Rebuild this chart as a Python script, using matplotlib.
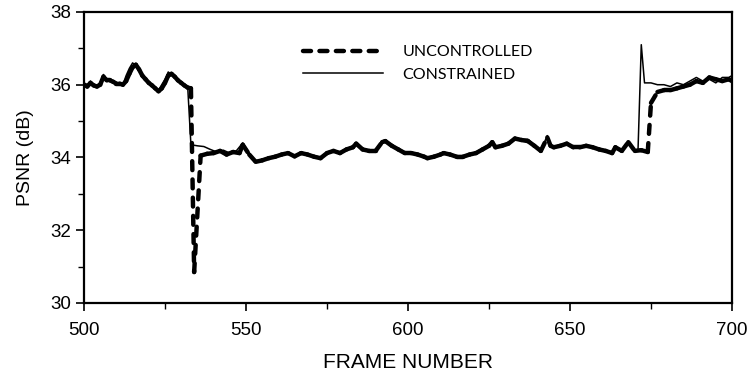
import matplotlib
matplotlib.use("Agg")
import matplotlib.pyplot as plt
from matplotlib.collections import LineCollection
from matplotlib.lines import Line2D
from matplotlib.ticker import MultipleLocator
import numpy as np

# constrained (thin solid line)
frames_c = [500, 501, 502, 503, 504, 505, 506, 507, 508, 509, 510, 511, 512, 513, 514,
            515, 516, 517, 518, 519, 520, 521, 522, 523, 524, 525, 526, 527, 528, 529,
            530, 531, 532, 533, 535, 537, 539, 541, 543, 545, 547, 549, 551, 553, 555,
            557, 559, 561, 563, 565, 567, 569, 571, 573, 575, 577, 579, 581, 583, 584,
            586, 588, 590, 592, 593, 595, 597, 599, 601, 603, 605, 606, 608, 610, 611,
            613, 615, 617, 619, 621, 623, 625, 626, 627, 629, 631, 633, 635, 637, 639,
            641, 643, 644, 645, 647, 649, 651, 653, 655, 657, 659, 661, 663, 664, 666,
            668, 670, 671, 672, 673, 675, 677, 679, 681, 683, 685, 687, 689, 691, 693,
            695, 697, 699, 700]
psnr_c = [36.05, 36.0, 36.1, 36.0, 35.98, 36.05, 36.28, 36.15, 36.15, 36.1, 36.05, 36.05,
          36.0, 36.25, 36.45, 36.6, 36.52, 36.38, 36.22, 36.15, 36.05, 36.0, 35.88, 35.85,
          36.0, 36.15, 36.35, 36.28, 36.2, 36.1, 36.05, 36.0, 35.95, 34.35, 34.32, 34.3,
          34.22, 34.15, 34.2, 34.12, 34.18, 34.4, 34.12, 33.9, 33.95, 34.0, 34.05, 34.1,
          34.1, 34.05, 34.15, 34.1, 34.05, 34.0, 34.15, 34.2, 34.15, 34.25, 34.3, 34.4,
          34.25, 34.2, 34.2, 34.45, 34.48, 34.35, 34.25, 34.15, 34.15, 34.1, 34.05, 34.0,
          34.05, 34.1, 34.15, 34.1, 34.05, 34.05, 34.1, 34.15, 34.25, 34.35, 34.45, 34.3,
          34.35, 34.4, 34.55, 34.5, 34.5, 34.35, 34.2, 34.6, 34.35, 34.3, 34.35, 34.4,
          34.3, 34.3, 34.35, 34.3, 34.25, 34.2, 34.15, 34.3, 34.2, 34.45, 34.2, 34.22,
          37.1, 36.05, 36.05, 36.0, 36.0, 35.95, 36.05, 36.0, 36.1, 36.2, 36.1, 36.15,
          36.05, 36.2, 36.2, 36.25]

# uncontrolled (thick dashed line)
frames_u = [500, 501, 502, 503, 504, 505, 506, 507, 508, 509, 510, 511, 512, 513, 514,
            515, 516, 517, 518, 519, 520, 521, 522, 523, 524, 525, 526, 527, 528, 529,
            530, 531, 532, 533, 534, 536, 538, 540, 542, 544, 546, 548, 549, 551, 553,
            555, 557, 559, 561, 563, 565, 567, 569, 571, 573, 575, 577, 579, 581, 583,
            584, 586, 588, 590, 592, 593, 595, 597, 599, 601, 603, 605, 606, 608, 610,
            611, 613, 615, 617, 619, 621, 623, 625, 626, 627, 629, 631, 633, 635, 637,
            639, 641, 643, 644, 645, 647, 649, 651, 653, 655, 657, 659, 661, 663, 664,
            666, 668, 670, 672, 674, 675, 677, 679, 681, 683, 685, 687, 689, 691, 693,
            695, 697, 699, 700]
psnr_u = [36.0, 35.95, 36.05, 35.98, 35.95, 36.0, 36.22, 36.12, 36.12, 36.08, 36.03,
          36.03, 36.0, 36.1, 36.3, 36.48, 36.55, 36.42, 36.25, 36.15, 36.05, 35.98, 35.9,
          35.82, 35.9, 36.05, 36.25, 36.3, 36.22, 36.12, 36.05, 35.98, 35.92, 35.9, 30.85,
          34.05, 34.1, 34.12, 34.18, 34.08, 34.15, 34.12, 34.35, 34.08, 33.88, 33.92,
          33.98, 34.02, 34.08, 34.12, 34.03, 34.12, 34.08, 34.02, 33.98, 34.12, 34.18,
          34.12, 34.22, 34.28, 34.38, 34.22, 34.18, 34.18, 34.42, 34.45, 34.32, 34.22,
          34.12, 34.12, 34.08, 34.02, 33.98, 34.02, 34.08, 34.12, 34.08, 34.02, 34.02,
          34.08, 34.12, 34.22, 34.32, 34.42, 34.28, 34.32, 34.38, 34.52, 34.48, 34.45,
          34.32, 34.18, 34.55, 34.32, 34.28, 34.32, 34.38, 34.28, 34.28, 34.32, 34.28,
          34.22, 34.18, 34.12, 34.28, 34.18, 34.42, 34.18, 34.2, 34.15, 35.5, 35.8, 35.85,
          35.85, 35.9, 35.95, 36.0, 36.1, 36.05, 36.2, 36.15, 36.1, 36.15, 36.1]

x_ticks = [500, 550, 600, 650, 700]
y_ticks = [30, 32, 34, 36, 38]

narrow = ["Liberation Sans Narrow", "Liberation Sans", "DejaVu Sans"]

fig = plt.figure(figsize=(7.52, 3.74), dpi=100)
ax = fig.add_axes([0.1117, 0.19, 0.8617, 0.778])

# old plotters restart the dash pattern on every segment, so only long jumps look dashed
pts = np.column_stack([frames_u, psnr_u])
segs = np.stack([pts[:-1], pts[1:]], axis=1)
dash = (0, (2.0, 2.1))
lc = LineCollection(segs, colors="black", linewidths=3.2, linestyles=[dash],
                    capstyle="round", joinstyle="round")
ax.add_collection(lc)

ax.plot(frames_c, psnr_c, color="black", lw=1.1, solid_joinstyle="round")

ax.set_xlim(500, 700)
ax.set_ylim(30, 38)
ax.set_xticks(x_ticks)
ax.set_yticks(y_ticks)
ax.xaxis.set_minor_locator(MultipleLocator(25))
ax.yaxis.set_minor_locator(MultipleLocator(1))
ax.tick_params(which="major", direction="out", length=6, width=1.2, pad=8)
ax.tick_params(which="minor", direction="out", length=4, width=1.0)
ax.tick_params(axis="y", pad=3)
for lab in ax.get_xticklabels() + ax.get_yticklabels():
    lab.set_family(narrow)
    lab.set_fontsize(13.5)
for s in ax.spines.values():
    s.set_linewidth(1.6)

ax.set_xlabel("FRAME NUMBER", family=narrow, fontsize=15, labelpad=10)
ax.set_ylabel("PSNR (dB)", family=["Liberation Sans", "DejaVu Sans"], fontsize=14, labelpad=12)

handles = [
    Line2D([], [], color="black", lw=3.2, linestyle=(0, (1.8, 1.9)), dash_capstyle="round"),
    Line2D([], [], color="black", lw=1.1),
]
ax.legend(handles, ["UNCONTROLLED", "CONSTRAINED"], loc="upper left",
          bbox_to_anchor=(0.316, 0.935), frameon=False, handlelength=5.0,
          handletextpad=1.2, labelspacing=0.5, prop={"family": "Lato", "size": 11.5})

plt.savefig("out.png", dpi=100)
plt.close()
